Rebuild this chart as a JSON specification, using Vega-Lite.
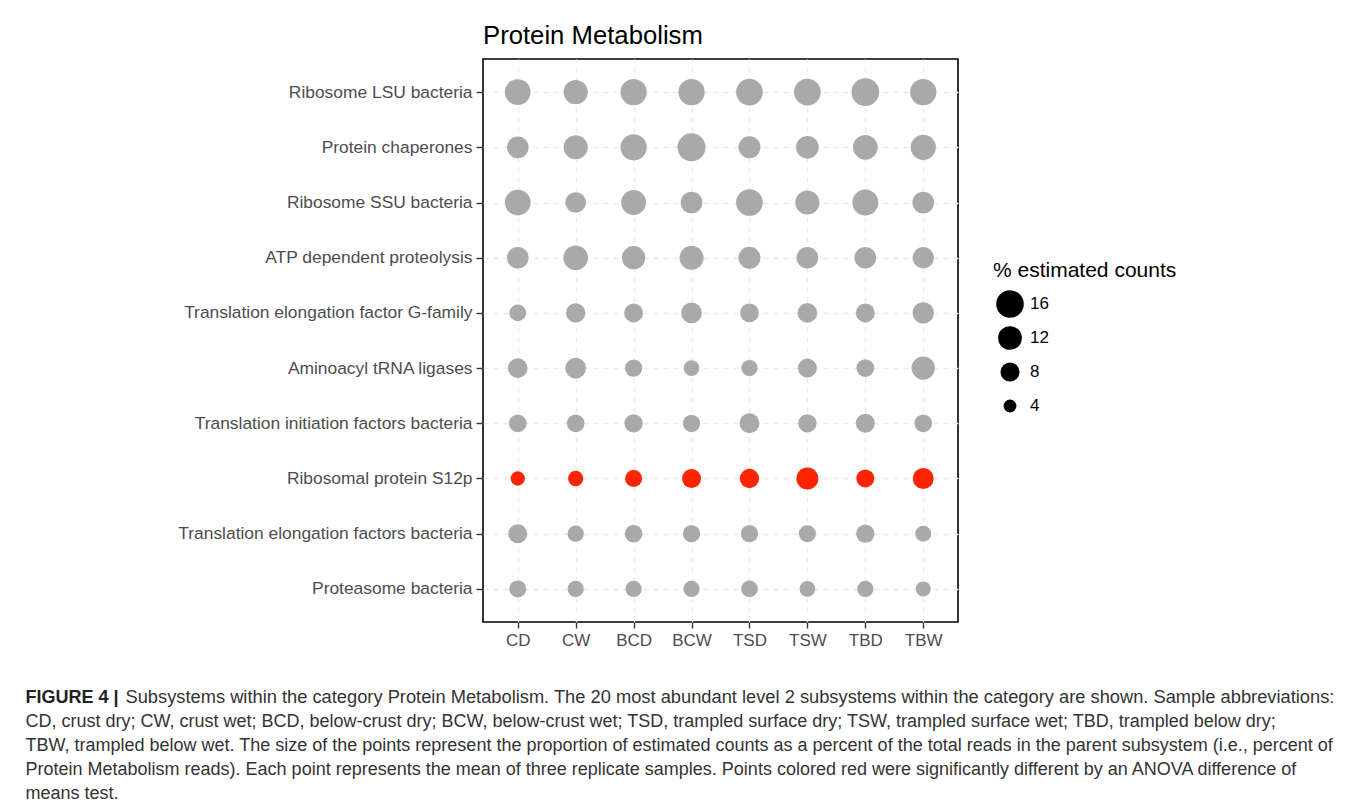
{
  "$schema": "https://vega.github.io/schema/vega-lite/v6.json",
  "width": 475,
  "height": 563,
  "autosize": {"type": "none"},
  "padding": {"left": 483, "top": 59, "right": 402, "bottom": 190},
  "background": "white",
  "title": {"text": "Protein Metabolism", "anchor": "start", "frame": "group", "baseline": "alphabetic", "offset": 14, "dy": 25, "fontSize": 25.7, "fontWeight": "normal", "color": "black"},
  "datasets": {
    "abundance": [
      {"subsystem": "Ribosome LSU bacteria", "sample": "CD", "pct": 14.0, "significant": "no"},
      {"subsystem": "Ribosome LSU bacteria", "sample": "CW", "pct": 12.5, "significant": "no"},
      {"subsystem": "Ribosome LSU bacteria", "sample": "BCD", "pct": 14.6, "significant": "no"},
      {"subsystem": "Ribosome LSU bacteria", "sample": "BCW", "pct": 14.6, "significant": "no"},
      {"subsystem": "Ribosome LSU bacteria", "sample": "TSD", "pct": 15.0, "significant": "no"},
      {"subsystem": "Ribosome LSU bacteria", "sample": "TSW", "pct": 15.0, "significant": "no"},
      {"subsystem": "Ribosome LSU bacteria", "sample": "TBD", "pct": 16.1, "significant": "no"},
      {"subsystem": "Ribosome LSU bacteria", "sample": "TBW", "pct": 14.6, "significant": "no"},
      {"subsystem": "Protein chaperones", "sample": "CD", "pct": 10.1, "significant": "no"},
      {"subsystem": "Protein chaperones", "sample": "CW", "pct": 12.3, "significant": "no"},
      {"subsystem": "Protein chaperones", "sample": "BCD", "pct": 14.6, "significant": "no"},
      {"subsystem": "Protein chaperones", "sample": "BCW", "pct": 16.4, "significant": "no"},
      {"subsystem": "Protein chaperones", "sample": "TSD", "pct": 10.4, "significant": "no"},
      {"subsystem": "Protein chaperones", "sample": "TSW", "pct": 11.0, "significant": "no"},
      {"subsystem": "Protein chaperones", "sample": "TBD", "pct": 12.9, "significant": "no"},
      {"subsystem": "Protein chaperones", "sample": "TBW", "pct": 13.5, "significant": "no"},
      {"subsystem": "Ribosome SSU bacteria", "sample": "CD", "pct": 14.0, "significant": "no"},
      {"subsystem": "Ribosome SSU bacteria", "sample": "CW", "pct": 9.3, "significant": "no"},
      {"subsystem": "Ribosome SSU bacteria", "sample": "BCD", "pct": 13.2, "significant": "no"},
      {"subsystem": "Ribosome SSU bacteria", "sample": "BCW", "pct": 10.1, "significant": "no"},
      {"subsystem": "Ribosome SSU bacteria", "sample": "TSD", "pct": 15.0, "significant": "no"},
      {"subsystem": "Ribosome SSU bacteria", "sample": "TSW", "pct": 12.3, "significant": "no"},
      {"subsystem": "Ribosome SSU bacteria", "sample": "TBD", "pct": 14.3, "significant": "no"},
      {"subsystem": "Ribosome SSU bacteria", "sample": "TBW", "pct": 10.1, "significant": "no"},
      {"subsystem": "ATP dependent proteolysis", "sample": "CD", "pct": 10.1, "significant": "no"},
      {"subsystem": "ATP dependent proteolysis", "sample": "CW", "pct": 12.9, "significant": "no"},
      {"subsystem": "ATP dependent proteolysis", "sample": "BCD", "pct": 11.6, "significant": "no"},
      {"subsystem": "ATP dependent proteolysis", "sample": "BCW", "pct": 12.3, "significant": "no"},
      {"subsystem": "ATP dependent proteolysis", "sample": "TSD", "pct": 10.4, "significant": "no"},
      {"subsystem": "ATP dependent proteolysis", "sample": "TSW", "pct": 10.1, "significant": "no"},
      {"subsystem": "ATP dependent proteolysis", "sample": "TBD", "pct": 10.1, "significant": "no"},
      {"subsystem": "ATP dependent proteolysis", "sample": "TBW", "pct": 9.8, "significant": "no"},
      {"subsystem": "Translation elongation factor G-family", "sample": "CD", "pct": 6.3, "significant": "no"},
      {"subsystem": "Translation elongation factor G-family", "sample": "CW", "pct": 8.2, "significant": "no"},
      {"subsystem": "Translation elongation factor G-family", "sample": "BCD", "pct": 7.9, "significant": "no"},
      {"subsystem": "Translation elongation factor G-family", "sample": "BCW", "pct": 9.3, "significant": "no"},
      {"subsystem": "Translation elongation factor G-family", "sample": "TSD", "pct": 7.7, "significant": "no"},
      {"subsystem": "Translation elongation factor G-family", "sample": "TSW", "pct": 8.5, "significant": "no"},
      {"subsystem": "Translation elongation factor G-family", "sample": "TBD", "pct": 7.9, "significant": "no"},
      {"subsystem": "Translation elongation factor G-family", "sample": "TBW", "pct": 9.8, "significant": "no"},
      {"subsystem": "Aminoacyl tRNA ligases", "sample": "CD", "pct": 8.5, "significant": "no"},
      {"subsystem": "Aminoacyl tRNA ligases", "sample": "CW", "pct": 9.3, "significant": "no"},
      {"subsystem": "Aminoacyl tRNA ligases", "sample": "BCD", "pct": 6.7, "significant": "no"},
      {"subsystem": "Aminoacyl tRNA ligases", "sample": "BCW", "pct": 5.6, "significant": "no"},
      {"subsystem": "Aminoacyl tRNA ligases", "sample": "TSD", "pct": 6.0, "significant": "no"},
      {"subsystem": "Aminoacyl tRNA ligases", "sample": "TSW", "pct": 7.9, "significant": "no"},
      {"subsystem": "Aminoacyl tRNA ligases", "sample": "TBD", "pct": 7.0, "significant": "no"},
      {"subsystem": "Aminoacyl tRNA ligases", "sample": "TBW", "pct": 11.6, "significant": "no"},
      {"subsystem": "Translation initiation factors bacteria", "sample": "CD", "pct": 7.0, "significant": "no"},
      {"subsystem": "Translation initiation factors bacteria", "sample": "CW", "pct": 7.0, "significant": "no"},
      {"subsystem": "Translation initiation factors bacteria", "sample": "BCD", "pct": 7.4, "significant": "no"},
      {"subsystem": "Translation initiation factors bacteria", "sample": "BCW", "pct": 6.7, "significant": "no"},
      {"subsystem": "Translation initiation factors bacteria", "sample": "TSD", "pct": 8.7, "significant": "no"},
      {"subsystem": "Translation initiation factors bacteria", "sample": "TSW", "pct": 7.4, "significant": "no"},
      {"subsystem": "Translation initiation factors bacteria", "sample": "TBD", "pct": 7.9, "significant": "no"},
      {"subsystem": "Translation initiation factors bacteria", "sample": "TBW", "pct": 7.0, "significant": "no"},
      {"subsystem": "Ribosomal protein S12p", "sample": "CD", "pct": 4.8, "significant": "yes"},
      {"subsystem": "Ribosomal protein S12p", "sample": "CW", "pct": 5.4, "significant": "yes"},
      {"subsystem": "Ribosomal protein S12p", "sample": "BCD", "pct": 6.5, "significant": "yes"},
      {"subsystem": "Ribosomal protein S12p", "sample": "BCW", "pct": 7.9, "significant": "yes"},
      {"subsystem": "Ribosomal protein S12p", "sample": "TSD", "pct": 8.2, "significant": "yes"},
      {"subsystem": "Ribosomal protein S12p", "sample": "TSW", "pct": 10.4, "significant": "yes"},
      {"subsystem": "Ribosomal protein S12p", "sample": "TBD", "pct": 7.2, "significant": "yes"},
      {"subsystem": "Ribosomal protein S12p", "sample": "TBW", "pct": 9.5, "significant": "yes"},
      {"subsystem": "Translation elongation factors bacteria", "sample": "CD", "pct": 7.9, "significant": "no"},
      {"subsystem": "Translation elongation factors bacteria", "sample": "CW", "pct": 6.0, "significant": "no"},
      {"subsystem": "Translation elongation factors bacteria", "sample": "BCD", "pct": 7.0, "significant": "no"},
      {"subsystem": "Translation elongation factors bacteria", "sample": "BCW", "pct": 6.7, "significant": "no"},
      {"subsystem": "Translation elongation factors bacteria", "sample": "TSD", "pct": 6.7, "significant": "no"},
      {"subsystem": "Translation elongation factors bacteria", "sample": "TSW", "pct": 6.5, "significant": "no"},
      {"subsystem": "Translation elongation factors bacteria", "sample": "TBD", "pct": 7.4, "significant": "no"},
      {"subsystem": "Translation elongation factors bacteria", "sample": "TBW", "pct": 5.8, "significant": "no"},
      {"subsystem": "Proteasome bacteria", "sample": "CD", "pct": 6.5, "significant": "no"},
      {"subsystem": "Proteasome bacteria", "sample": "CW", "pct": 6.0, "significant": "no"},
      {"subsystem": "Proteasome bacteria", "sample": "BCD", "pct": 6.0, "significant": "no"},
      {"subsystem": "Proteasome bacteria", "sample": "BCW", "pct": 6.0, "significant": "no"},
      {"subsystem": "Proteasome bacteria", "sample": "TSD", "pct": 6.3, "significant": "no"},
      {"subsystem": "Proteasome bacteria", "sample": "TSW", "pct": 5.6, "significant": "no"},
      {"subsystem": "Proteasome bacteria", "sample": "TBD", "pct": 6.0, "significant": "no"},
      {"subsystem": "Proteasome bacteria", "sample": "TBW", "pct": 5.2, "significant": "no"}
    ]
  },
  "data": {"name": "abundance"},
  "layer": [
    {
      "mark": {"type": "circle", "opacity": 1, "strokeWidth": 0},
      "encoding": {
        "x": {
          "field": "sample",
          "type": "nominal",
          "sort": ["CD", "CW", "BCD", "BCW", "TSD", "TSW", "TBD", "TBW"],
          "scale": {"type": "point", "padding": 0.6},
          "axis": {
            "title": [
              "CD, crust dry; CW, crust wet; BCD, below-crust dry; BCW, below-crust wet; TSD, trampled surface dry; TSW, trampled surface wet; TBD, trampled below dry;",
              "TBW, trampled below wet. The size of the points represent the proportion of estimated counts as a percent of the total reads in the parent subsystem (i.e., percent of",
              "Protein Metabolism reads). Each point represents the mean of three replicate samples. Points colored red were significantly different by an ANOVA difference of",
              "means test."
            ],
            "titleX": -458,
            "titleY": 104,
            "titleAlign": "left",
            "titleAnchor": "start",
            "titleBaseline": "alphabetic",
            "titleFontSize": 18,
            "titleFontWeight": "normal",
            "titleColor": "#333333",
            "titleLineHeight": 24.2,
            "titleLimit": 3000,
            "labelAngle": 0,
            "labelFontSize": 17,
            "labelColor": "#4D4D4D",
            "labelPadding": 4,
            "tickSize": 6
          }
        },
        "y": {
          "field": "subsystem",
          "type": "nominal",
          "sort": ["Ribosome LSU bacteria", "Protein chaperones", "Ribosome SSU bacteria", "ATP dependent proteolysis", "Translation elongation factor G-family", "Aminoacyl tRNA ligases", "Translation initiation factors bacteria", "Ribosomal protein S12p", "Translation elongation factors bacteria", "Proteasome bacteria"],
          "scale": {"type": "point", "padding": 0.6},
          "axis": {
            "title": "FIGURE 4 |",
            "titleAngle": 0,
            "titleX": -458,
            "titleY": 643,
            "titleAlign": "left",
            "titleAnchor": "start",
            "titleBaseline": "alphabetic",
            "titleFontSize": 18,
            "titleFontWeight": "bold",
            "titleColor": "#222222",
            "labelFontSize": 17.4,
            "labelColor": "#4D4D4D",
            "labelPadding": 4,
            "labelLimit": 500,
            "tickSize": 7
          }
        },
        "size": {
          "field": "pct",
          "type": "quantitative",
          "title": "% estimated counts",
          "scale": {"type": "linear", "domain": [4, 16], "range": [165, 762], "zero": false},
          "legend": {
            "values": [16, 12, 8, 4],
            "orient": "none",
            "legendX": 510,
            "legendY": 201,
            "padding": 0,
            "titleFontSize": 21,
            "titleFontWeight": "normal",
            "titleColor": "black",
            "titlePadding": 9,
            "titleLimit": 500,
            "labelFontSize": 17,
            "labelColor": "black",
            "labelOffset": 6,
            "symbolType": "circle",
            "symbolFillColor": "black",
            "symbolStrokeWidth": 0,
            "symbolOpacity": 1,
            "symbolOffset": 3,
            "clipHeight": 28,
            "rowPadding": 6
          }
        },
        "color": {
          "field": "significant",
          "type": "nominal",
          "scale": {"domain": ["no", "yes"], "range": ["#A9A9A9", "#FF2400"]},
          "legend": null
        }
      }
    },
    {
      "transform": [{"filter": "false"}],
      "mark": {"type": "circle", "opacity": 1, "strokeWidth": 0},
      "encoding": {
        "x": {
          "field": "sample",
          "type": "nominal",
          "sort": ["CD", "CW", "BCD", "BCW", "TSD", "TSW", "TBD", "TBW"],
          "axis": {
            "orient": "top",
            "labels": false,
            "ticks": false,
            "grid": false,
            "domain": false,
            "title": "Subsystems within the category Protein Metabolism. The 20 most abundant level 2 subsystems within the category are shown. Sample abbreviations:",
            "titleX": -358,
            "titleY": 643,
            "titleAlign": "left",
            "titleAnchor": "start",
            "titleBaseline": "alphabetic",
            "titleFontSize": 18.3,
            "titleFontWeight": "normal",
            "titleColor": "#333333",
            "titleLimit": 3000
          }
        }
      }
    }
  ],
  "resolve": {"axis": {"x": "independent"}},
  "config": {
    "font": "Liberation Sans",
    "view": {"stroke": "black", "strokeWidth": 1.6},
    "axis": {
      "grid": true,
      "gridColor": "#EBEBEB",
      "gridDash": [5, 5],
      "gridWidth": 1.4,
      "domain": false,
      "tickColor": "#333333",
      "tickWidth": 1.4
    }
  }
}
